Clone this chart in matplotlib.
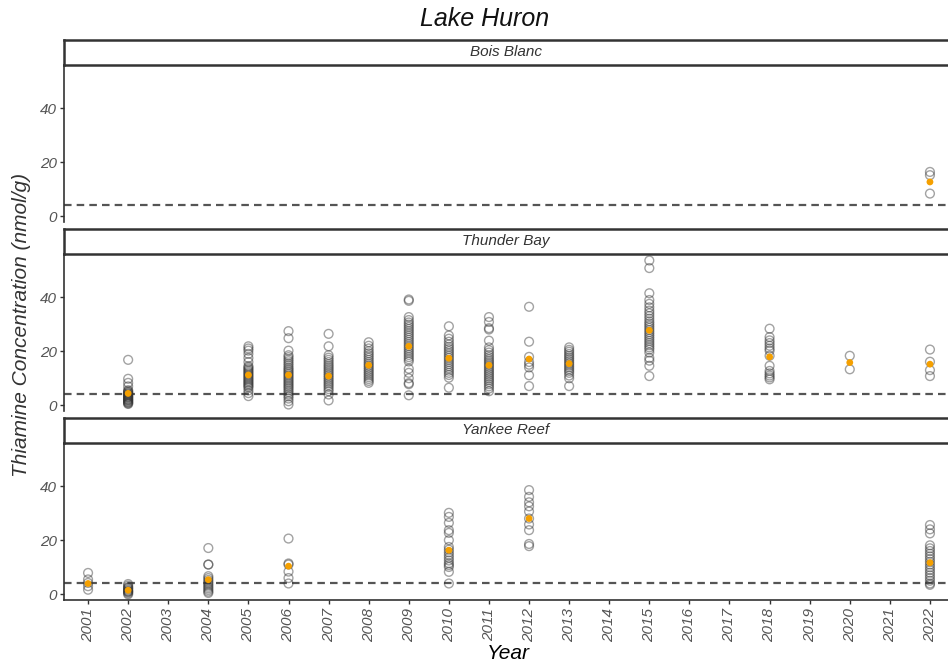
import matplotlib
matplotlib.use("Agg")
import matplotlib.pyplot as plt
import numpy as np

# ---- data: thiamine concentration (nmol/g) by site and year ----
sites = ["Bois Blanc", "Thunder Bay", "Yankee Reef"]

bb_years = [2022]
bb_values = [[16.4, 15.2, 8.4]]
bb_means = [12.7]

tb_years = [2002, 2005, 2006, 2007, 2008, 2009, 2010, 2011, 2012, 2013, 2015, 2018, 2020, 2022]
tb_values = [
    [16.8, 9.8, 8.3, 7.0, 5.6, 5.2, 4.9, 4.6, 4.3, 4.0, 3.8, 3.5, 3.2, 3.0, 2.8, 2.5, 2.2, 2.0, 1.8, 1.5, 1.2, 1.0, 0.7, 0.5],
    [21.8, 21.0, 20.2, 19.0, 17.5, 16.0, 14.5, 14.0, 13.5, 13.0, 12.5, 12.0, 11.5, 11.0, 10.5, 10.0, 9.5, 9.0, 8.5, 8.0, 7.5, 7.0, 6.5, 5.5, 4.5, 3.4],
    [27.4, 24.8, 20.2, 18.5, 17.8, 17.0, 16.3, 15.5, 14.8, 14.0, 13.4, 12.8, 12.2, 11.6, 11.0, 10.4, 9.8, 9.2, 8.6, 8.0, 7.4, 6.8, 6.2, 5.5, 4.8, 4.0, 3.3, 2.5, 1.5, 0.3],
    [26.4, 21.8, 18.5, 17.6, 16.8, 16.0, 15.2, 14.5, 13.8, 13.1, 12.4, 11.7, 11.0, 10.3, 9.6, 8.9, 8.2, 7.5, 6.8, 6.0, 5.2, 4.0, 1.8],
    [23.3, 22.0, 21.0, 20.0, 19.2, 18.4, 17.6, 16.8, 16.0, 15.3, 14.6, 13.9, 13.2, 12.5, 11.8, 11.1, 10.4, 9.7, 9.0, 8.3],
    [39.1, 38.6, 32.6, 31.5, 30.6, 29.8, 29.0, 28.2, 27.4, 26.6, 25.8, 25.0, 24.2, 23.4, 22.6, 21.8, 21.0, 20.2, 19.4, 18.6, 17.8, 17.0, 16.2, 13.5, 12.0, 10.0, 8.2, 7.8, 3.7],
    [29.2, 25.8, 24.6, 23.5, 22.5, 21.6, 20.8, 20.0, 19.2, 18.4, 17.6, 16.8, 16.0, 15.2, 14.4, 13.6, 12.8, 12.0, 11.2, 10.2, 6.5],
    [32.6, 30.8, 28.5, 28.0, 23.9, 21.4, 20.4, 19.5, 18.6, 17.8, 17.0, 16.3, 15.6, 14.9, 14.2, 13.5, 12.8, 12.1, 11.4, 10.7, 10.0, 9.3, 8.6, 7.8, 7.0, 6.2, 5.2],
    [36.4, 23.5, 17.9, 16.0, 15.0, 14.0, 11.1, 7.1],
    [21.4, 20.5, 19.8, 19.0, 18.3, 17.6, 16.9, 16.2, 15.5, 14.8, 14.1, 13.4, 12.7, 12.0, 11.0, 10.0, 7.1],
    [53.5, 50.7, 41.4, 38.9, 37.5, 36.2, 35.0, 34.0, 33.0, 32.0, 31.0, 30.2, 29.4, 28.6, 27.8, 27.0, 26.2, 25.4, 24.6, 23.8, 23.0, 22.2, 21.4, 20.6, 19.5, 17.5, 16.5, 14.6, 10.8],
    [28.3, 25.2, 24.0, 23.0, 22.0, 21.0, 20.2, 18.3, 14.6, 12.7, 11.8, 11.0, 10.3, 9.6],
    [18.3, 13.3],
    [20.6, 16.1, 13.0, 10.8],
]
tb_means = [4.4, 11.2, 11.2, 10.8, 14.8, 21.8, 17.4, 14.8, 17.1, 15.4, 27.7, 17.9, 15.8, 15.2]

yr_years = [2001, 2002, 2004, 2006, 2010, 2012, 2022]
yr_values = [
    [7.9, 5.5, 4.2, 3.0, 1.7],
    [3.8, 3.2, 2.6, 2.4, 2.0, 1.6, 1.2, 1.0, 0.8, 0.4, 0.0],
    [17.1, 11.0, 11.0, 6.7, 6.0, 5.3, 4.6, 4.0, 3.4, 2.8, 2.2, 1.6, 1.0, 0.5],
    [20.6, 11.4, 11.0, 8.4, 6.0, 4.0],
    [30.1, 28.6, 26.4, 23.7, 22.7, 20.0, 17.5, 16.5, 15.5, 14.5, 13.5, 12.5, 11.5, 10.8, 10.1, 8.3, 4.0],
    [38.5, 36.0, 34.0, 32.5, 30.6, 28.0, 25.8, 23.7, 18.6, 17.8],
    [25.6, 24.0, 22.5, 18.1, 17.0, 16.0, 15.0, 14.0, 13.0, 12.0, 11.0, 10.0, 9.0, 8.0, 7.0, 6.0, 5.0, 4.0, 3.5],
]
yr_means = [4.0, 1.5, 5.4, 10.4, 16.3, 28.0, 11.7]

threshold = 4.0
year_ticks = list(range(2001, 2023))
y_ticks = [0, 20, 40]

# ---- layout (pixel geometry of the figure) ----
W, H = 948, 668
plt.rcParams["font.family"] = ["Liberation Sans", "DejaVu Sans"]


def rect(left, top, right, bottom):
    return [left / W, 1 - bottom / H, (right - left) / W, (bottom - top) / H]


fig = plt.figure(figsize=(W / 100, H / 100), dpi=100)
fig.patch.set_facecolor("white")

panel_tops = [65, 254, 443]
panel_h = 157
strip_h = 25
left_px, right_px = 64, 952

panel_data = [
    (bb_years, bb_values, bb_means),
    (tb_years, tb_values, tb_means),
    (yr_years, yr_values, yr_means),
]

edge_col = "#333333"
for i, (site, (years, values, means)) in enumerate(zip(sites, panel_data)):
    top = panel_tops[i]
    ax = fig.add_axes(rect(left_px, top, right_px, top + panel_h))
    ax.set_xlim(2000.4, 2022.55)
    ax.set_ylim(-2.1, 55.9)
    for sp in ["top", "right"]:
        ax.spines[sp].set_visible(False)
    ax.spines["left"].set_color("#333333")
    ax.spines["left"].set_linewidth(1.2)
    ax.spines["bottom"].set_color("#333333")
    ax.spines["bottom"].set_linewidth(1.2)
    ax.spines["bottom"].set_visible(i == 2)

    ax.axhline(threshold, color="#555555", lw=1.6, ls=(0, (3.4, 2.3)), zorder=1)

    for yr, vals in zip(years, values):
        ax.scatter([yr] * len(vals), vals, s=40, facecolors="none",
                   edgecolors=edge_col, linewidths=1.0, alpha=0.45, zorder=2)
    ax.scatter(years, means, s=24, color="#F5A000", edgecolors="none", zorder=3)

    ax.set_yticks(y_ticks)
    ax.set_yticklabels([str(t) for t in y_ticks], fontsize=11,
                       style="italic", color="#555555")
    ax.tick_params(axis="y", length=3, width=1, color="#333333", pad=2)
    if i == 2:
        ax.set_xticks(year_ticks)
        ax.set_xticklabels([str(y) for y in year_ticks], rotation=90,
                           fontsize=11, style="italic", color="#555555")
        ax.tick_params(axis="x", length=3, width=1, color="#333333", pad=3)
        ax.set_xlabel("Year", fontsize=15, style="italic", labelpad=1)
    else:
        ax.set_xticks([])

    # facet strip
    sax = fig.add_axes(rect(left_px, top - strip_h, right_px, top))
    sax.set_xticks([])
    sax.set_yticks([])
    sax.set_facecolor("white")
    for sp in sax.spines.values():
        sp.set_color("#333333")
        sp.set_linewidth(1.8)
    sax.text(0.5 * (948 - left_px) / (right_px - left_px), 0.5, site,
             transform=sax.transAxes, ha="center", va="center",
             fontsize=11, style="italic", color="#333333")

fig.text(485 / W, 1 - 19 / H, "Lake Huron", ha="center", va="center",
         fontsize=18, style="italic", color="#111111")
fig.text(22 / W, 1 - 325 / H, "Thiamine Concentration (nmol/g)", ha="center",
         va="center", rotation=90, fontsize=15, style="italic", color="#333333")

fig.savefig("out.png", dpi=100)
